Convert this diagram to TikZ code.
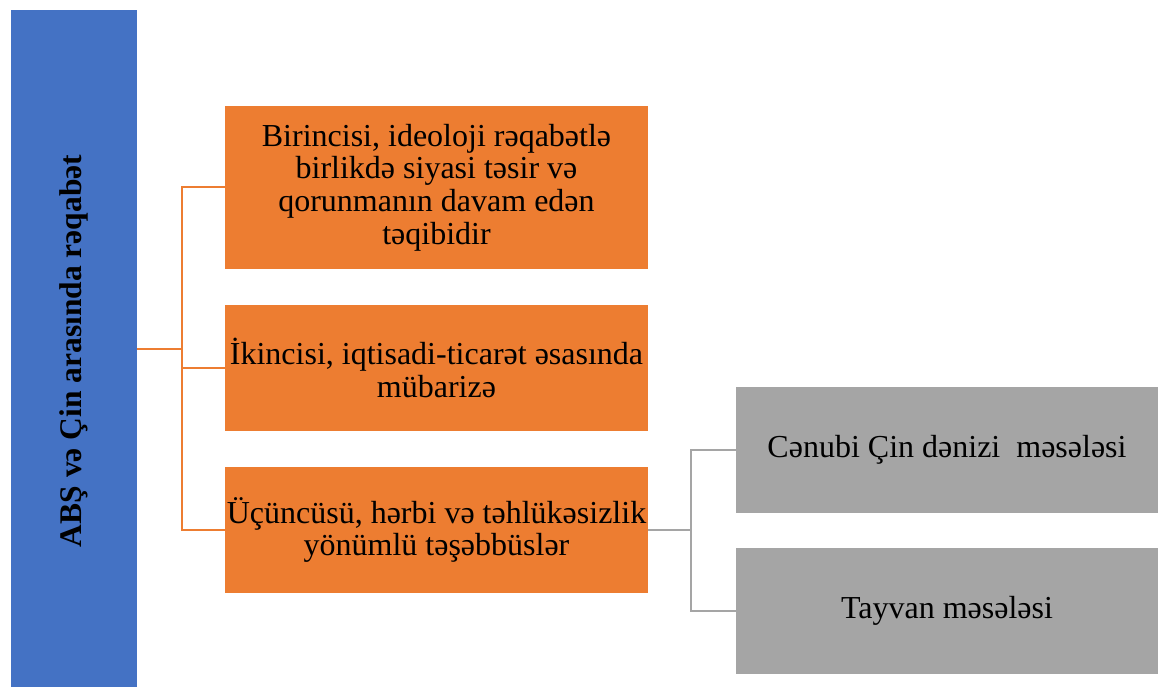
\documentclass[tikz,border=0pt]{standalone}
\usepackage{fontspec}
\setmainfont{Liberation Serif}
\definecolor{cblue}{HTML}{4472C4}
\definecolor{corange}{HTML}{ED7D31}
\definecolor{cgray}{HTML}{A5A5A5}
\tikzset{
  box/.style={draw=none, inner sep=0pt, align=center, text=black,
    font=\fontsize{32}{32.7}\selectfont},
  obox/.style={box, fill=corange, minimum width=423pt},
  gbox/.style={box, fill=cgray, minimum width=422pt, minimum height=126pt},
  oline/.style={draw=corange, line width=2pt},
  gline/.style={draw=cgray, line width=2pt},
}
\begin{document}
\begin{tikzpicture}[x=1pt,y=-1pt]
\useasboundingbox[fill=white] (0,0) rectangle (1162,687);
\node[box, fill=cblue, minimum width=126pt, minimum height=677pt] (blue) at (74,348.5) {};
\node[rotate=90, font=\fontsize{31.5}{32}\selectfont\bfseries, text=black] (title) at (74,351) {ABŞ və Çin arasında rəqabət};
\node[obox, minimum height=163pt] (o1) at (436.5,187.5) {Birincisi, ideoloji rəqabətlə\\birlikdə siyasi təsir və\\qorunmanın davam edən\\təqibidir};
\node[obox, minimum height=126pt] (o2) at (436.5,368) {İkincisi, iqtisadi-ticarət əsasında\\mübarizə};
\node[obox, minimum height=126pt] (o3) at (436.5,530) {Üçüncüsü, hərbi və təhlükəsizlik\\yönümlü təşəbbüslər};
\node[gbox] (g1) at (947,449.5) {Cənubi Çin dənizi \ məsələsi};
\node[gbox] (g2) at (947,611) {Tayvan məsələsi};
\coordinate (j1) at (181.5,0);
\coordinate (j2) at (691,0);
\draw[oline] (blue.east) -- (j1 |- blue.east);
\draw[oline] (o1.west) -| (j1 |- o3.west) -- (o3.west);
\draw[oline] (o2.west) -- (j1 |- o2.west);
\draw[gline] (o3.east) -- (j2 |- o3.east);
\draw[gline] (g1.west) -| (j2 |- g2.west) -- (g2.west);
\end{tikzpicture}
\end{document}
